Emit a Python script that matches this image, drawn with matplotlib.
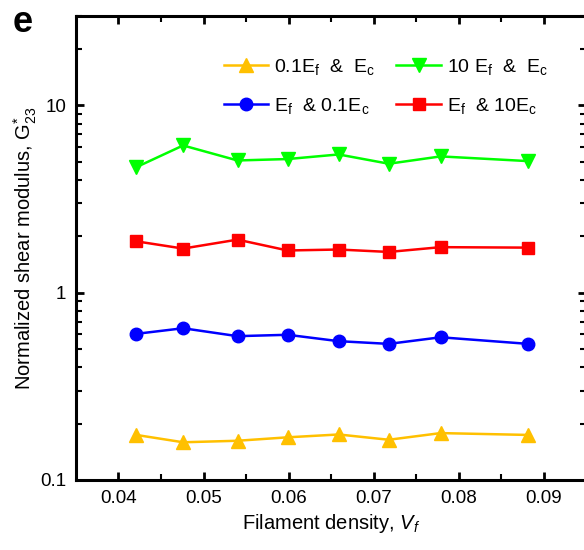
import matplotlib
matplotlib.use("Agg")
import matplotlib.pyplot as plt
from matplotlib.ticker import FixedLocator, NullFormatter, LogLocator

plt.rcParams['font.family'] = ['Liberation Sans', 'DejaVu Sans']
plt.rcParams['mathtext.fontset'] = 'custom'
plt.rcParams['mathtext.rm'] = 'Liberation Sans'
plt.rcParams['mathtext.it'] = 'Liberation Sans:italic'

# data
vf = [0.0421, 0.0476, 0.0540, 0.0599, 0.0659, 0.0718, 0.0779, 0.0882]
g_soft_fil = [0.174, 0.159, 0.162, 0.169, 0.175, 0.164, 0.178, 0.174]   # 0.1Ef & Ec
g_soft_mat = [0.603, 0.646, 0.586, 0.596, 0.551, 0.533, 0.578, 0.533]   # Ef & 0.1Ec
g_stiff_fil = [4.68, 6.11, 5.08, 5.17, 5.47, 4.88, 5.34, 5.04]          # 10 Ef & Ec
g_stiff_mat = [1.88, 1.72, 1.92, 1.68, 1.70, 1.65, 1.75, 1.74]          # Ef & 10Ec

fig = plt.figure(figsize=(5.84, 5.5), dpi=100)
ax = fig.add_axes([76/584, 70/550, (586-76)/584, (480-16)/550])

lw = 1.8
ax.plot(vf, g_soft_fil, '-^', color='#FFC000', lw=lw, ms=10,
        label=r'0.1E$_\mathregular{f}$  &  E$_\mathregular{c}$')
ax.plot(vf, g_soft_mat, '-o', color='#0000FF', lw=lw, ms=9,
        label=r'E$_\mathregular{f}$  & 0.1E$_\mathregular{c}$')
ax.plot(vf, g_stiff_fil, '-v', color='#00FF00', lw=lw, ms=10,
        label=r'10 E$_\mathregular{f}$  &  E$_\mathregular{c}$')
ax.plot(vf, g_stiff_mat, '-s', color='#FF0000', lw=lw, ms=8,
        label=r'E$_\mathregular{f}$  & 10E$_\mathregular{c}$')

ax.set_yscale('log')
ax.set_ylim(0.1, 30)
ax.set_xlim(0.035, 0.095)

ax.xaxis.set_major_locator(FixedLocator([0.04, 0.05, 0.06, 0.07, 0.08, 0.09]))
ax.xaxis.set_minor_locator(FixedLocator([0.045, 0.055, 0.065, 0.075, 0.085]))
ax.set_xticklabels(['0.04', '0.05', '0.06', '0.07', '0.08', '0.09'])
ax.yaxis.set_major_locator(FixedLocator([0.1, 1, 10]))
ax.set_yticklabels(['0.1', '1', '10'])
ax.yaxis.set_minor_locator(LogLocator(base=10, subs=range(2, 10)))
ax.yaxis.set_minor_formatter(NullFormatter())

for s in ax.spines.values():
    s.set_linewidth(2.2)
ax.tick_params(which='both', direction='in', top=True, right=True, width=2, labelsize=13.5)
ax.tick_params(which='major', length=6, pad=7)
ax.tick_params(which='minor', length=4, width=1.5)

ax.set_xlabel(r'Filament density, $\mathit{V_f}$', fontsize=14.5, labelpad=4)
ax.set_ylabel(r'Normalized shear modulus, G$^\mathregular{*}_\mathregular{23}$', fontsize=14.5, labelpad=1)

ax.legend(ncol=2, loc='upper left', bbox_to_anchor=(0.255, 0.95), frameon=False,
          fontsize=14, handlelength=2.3, handletextpad=0.3, columnspacing=1.1,
          labelspacing=1.0)

fig.text(0.022, 0.99, 'e', fontsize=26, fontweight='bold', va='top', ha='left')

fig.savefig('out.png', dpi=100)
